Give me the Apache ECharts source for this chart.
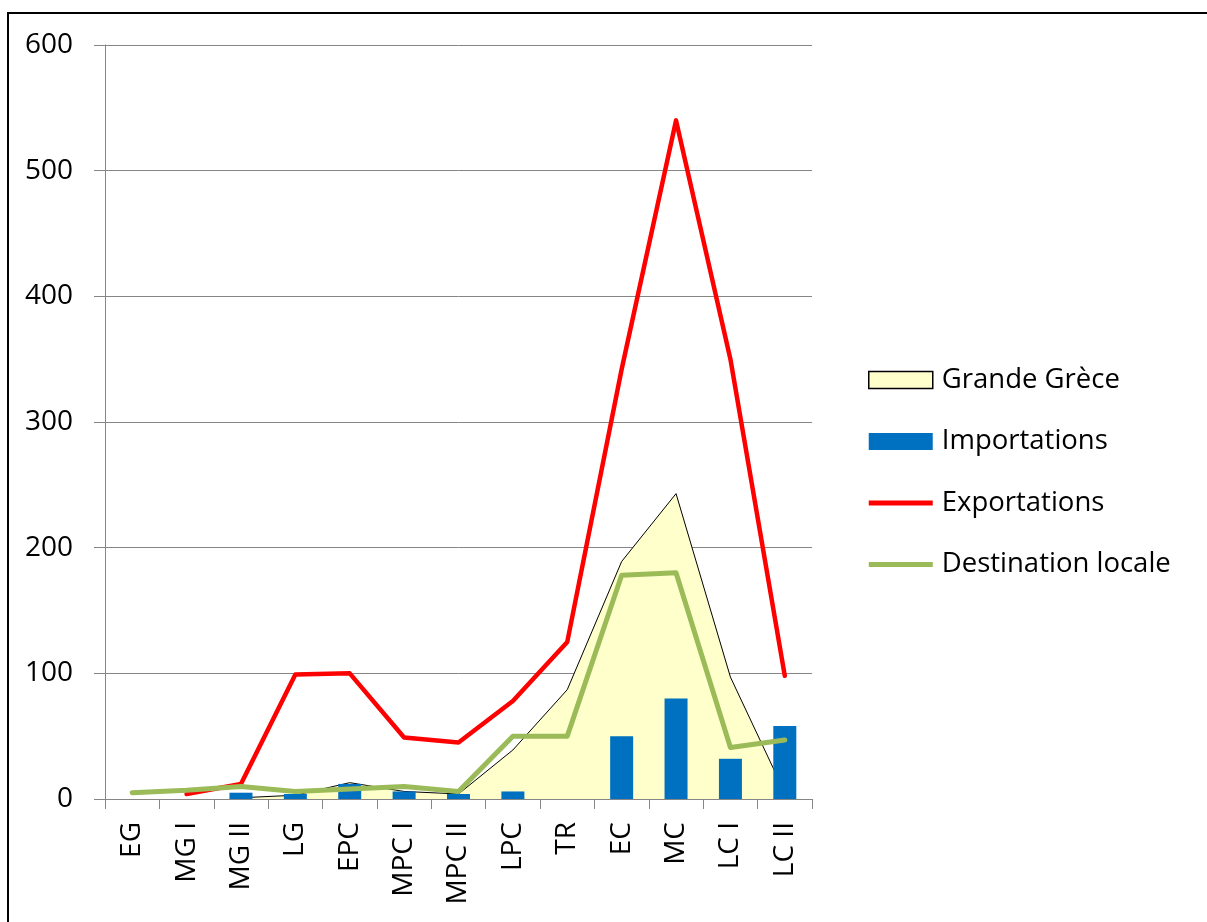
<!DOCTYPE html>
<html>
<head>
<meta charset="utf-8">
<script src="https://cdn.jsdelivr.net/npm/echarts@6/dist/echarts.min.js"></script>
<style>
html,body{margin:0;padding:0;background:#fff;}
#chart{width:1207px;height:922px;}
</style>
</head>
<body>
<div id="chart"></div>
<script>
const categories = ['EG','MG I','MG II','LG','EPC','MPC I','MPC II','LPC','TR','EC','MC','LC I','LC II'];
const grandeGrece = [null, null, 1, 3, 13, 6, 4, 39, 87, 189, 243, 97, 5];
const importations = [null, null, 5, 4, 12, 6, 4, 6, null, 50, 80, 32, 58];
const exportations = [null, 4, 12, 99, 100, 49, 45, 78, 125, 342, 540, 350, 98];
const destinationLocale = [5, 7, 10, 6, 8, 10, 6, 50, 50, 178, 180, 41, 47];
const yTicks = { min: 0, max: 600, interval: 100 };

const FONT = 'Open Sans';
const LINE_ICON = 'path://M0,0 H64 V5 H0 Z';
const chart = echarts.init(document.getElementById('chart'), null, { renderer: 'canvas' });
chart.setOption({
  animation: false,
  backgroundColor: '#fff',
  textStyle: { fontFamily: FONT },
  graphic: [{
    type: 'rect',
    shape: { x: 8, y: 13, width: 1300, height: 1000 },
    style: { fill: null, stroke: '#000', lineWidth: 2 },
    silent: true
  }],
  grid: { left: 105, right: 395, top: 45, bottom: 123, outerBoundsMode: 'none' },
  legend: {
    orient: 'vertical',
    left: 868,
    top: 365,
    padding: 0,
    itemWidth: 64,
    itemHeight: 17,
    itemGap: 31.5,
    symbolKeepAspect: true,
    selectedMode: false,
    textStyle: { fontFamily: FONT, fontSize: 27.5, color: '#000', lineHeight: 30, padding: [0, 0, 0, 4] },
    data: [
      { name: 'Grande Grèce', icon: 'rect', itemStyle: { color: '#FFFFCC', borderColor: '#000', borderWidth: 1.5 } },
      { name: 'Importations', icon: 'rect', itemStyle: { color: '#0070C0' } },
      { name: 'Exportations', icon: LINE_ICON, itemStyle: { color: '#FF0000', borderWidth: 0 } },
      { name: 'Destination locale', icon: LINE_ICON, itemStyle: { color: '#9BBB59', borderWidth: 0 } }
    ]
  },
  xAxis: {
    type: 'category',
    data: categories,
    boundaryGap: true,
    axisLine: { lineStyle: { color: '#868686', width: 1 } },
    axisTick: { show: true, length: 10, lineStyle: { color: '#868686' } },
    axisLabel: { rotate: 90, margin: 23, fontSize: 28, color: '#000', fontFamily: FONT, interval: 0 },
    splitLine: { show: false }
  },
  yAxis: {
    type: 'value',
    min: yTicks.min,
    max: yTicks.max,
    interval: yTicks.interval,
    axisLine: { show: true, lineStyle: { color: '#868686', width: 1 } },
    axisTick: { show: true, length: 11, lineStyle: { color: '#868686' } },
    axisLabel: { margin: 32, fontSize: 28, color: '#000', fontFamily: FONT },
    splitLine: { show: true, lineStyle: { color: '#868686', width: 1 } }
  },
  series: [
    {
      name: 'Grande Grèce',
      type: 'line',
      data: grandeGrece,
      symbol: 'none',
      z: 1,
      itemStyle: { color: '#FFFFCC' },
      lineStyle: { color: '#000', width: 1 },
      areaStyle: { color: '#FFFFCC', opacity: 1 }
    },
    {
      name: 'Importations',
      type: 'bar',
      data: importations,
      barWidth: 23,
      z: 2,
      itemStyle: { color: '#0070C0' }
    },
    {
      name: 'Exportations',
      type: 'line',
      data: exportations,
      symbol: 'none',
      z: 3,
      itemStyle: { color: '#FF0000' },
      lineStyle: { color: '#FF0000', width: 4.5, cap: 'round', join: 'round' }
    },
    {
      name: 'Destination locale',
      type: 'line',
      data: destinationLocale,
      symbol: 'none',
      z: 4,
      itemStyle: { color: '#9BBB59' },
      lineStyle: { color: '#9BBB59', width: 5, cap: 'round', join: 'round' }
    }
  ]
});
</script>
</body>
</html>
